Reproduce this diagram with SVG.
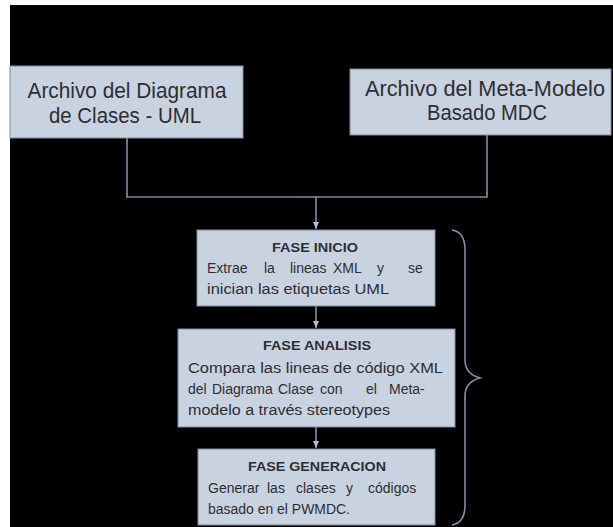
<svg xmlns="http://www.w3.org/2000/svg" width="613" height="527" viewBox="0 0 613 527">
<defs>
<style>
.box{fill:#c9d2df;stroke:#7f8ea3;stroke-width:1}
.t{font-family:"Liberation Sans",Arial,sans-serif;fill:#2e2e33}
.big{font-size:22px}
.h{font-size:12.5px;font-weight:bold}
.b{font-size:14px}
.ln{fill:none;stroke:#7f90a8;stroke-width:1.6}
</style>
<marker id="ah" markerWidth="8" markerHeight="6" refX="7" refY="3" orient="auto" markerUnits="userSpaceOnUse">
<path d="M0,0 L7,3 L0,6 Z" fill="#a9bfdc"/>
</marker>
</defs>
<rect x="0" y="0" width="613" height="527" fill="#ffffff"/>
<rect x="10" y="5" width="603" height="522" fill="#000000"/>
<g id="connectors">
<path class="ln" d="M127,138 V197 H487 V135"/>
<path class="ln" d="M316,197 V229" marker-end="url(#ah)"/>
<path class="ln" d="M316,306 V328" marker-end="url(#ah)"/>
<path class="ln" d="M316,427 V448" marker-end="url(#ah)"/>
</g>
<g id="uml">
<rect class="box" x="10" y="66" width="233" height="72"/>
<text class="t big" x="127" y="98" text-anchor="middle" textLength="199" lengthAdjust="spacingAndGlyphs">Archivo del Diagrama</text>
<text class="t big" x="125" y="123" text-anchor="middle" textLength="152" lengthAdjust="spacingAndGlyphs">de Clases - UML</text>
</g>
<g id="metamodelo">
<rect class="box" x="350" y="69" width="261" height="66"/>
<text class="t big" x="485" y="96" text-anchor="middle" textLength="240" lengthAdjust="spacingAndGlyphs">Archivo del Meta-Modelo</text>
<text class="t big" x="487" y="120" text-anchor="middle" textLength="120" lengthAdjust="spacingAndGlyphs">Basado MDC</text>
</g>
<g id="inicio">
<rect class="box" x="197" y="230" width="238" height="76"/>
<text class="t h" x="315" y="252" text-anchor="middle" textLength="86" lengthAdjust="spacingAndGlyphs">FASE INICIO</text>
<text class="t b" y="273"><tspan x="207">Extrae</tspan> <tspan x="264">la</tspan> <tspan x="290">lineas</tspan> <tspan x="333">XML</tspan> <tspan x="377">y</tspan> <tspan x="408">se</tspan></text>
<text class="t b" x="207" y="294" textLength="182" lengthAdjust="spacingAndGlyphs">inician las etiquetas UML</text>
</g>
<g id="analisis">
<rect class="box" x="178" y="329" width="277" height="98"/>
<text class="t h" x="317" y="350" text-anchor="middle" textLength="108" lengthAdjust="spacingAndGlyphs">FASE ANALISIS</text>
<text class="t b" x="188" y="373" textLength="255" lengthAdjust="spacingAndGlyphs">Compara las lineas de código XML</text>
<text class="t b" y="394"><tspan x="188">del</tspan> <tspan x="212">Diagrama</tspan> <tspan x="278">Clase</tspan> <tspan x="320">con</tspan> <tspan x="366">el</tspan> <tspan x="389">Meta-</tspan></text>
<text class="t b" x="188" y="415" textLength="202" lengthAdjust="spacingAndGlyphs">modelo a través stereotypes</text>
</g>
<g id="generacion">
<rect class="box" x="198" y="449" width="237" height="76"/>
<text class="t h" x="317" y="471" text-anchor="middle" textLength="138" lengthAdjust="spacingAndGlyphs">FASE GENERACION</text>
<text class="t b" y="493"><tspan x="208">Generar</tspan> <tspan x="267">las</tspan> <tspan x="296">clases</tspan> <tspan x="346">y</tspan> <tspan x="368">códigos</tspan></text>
<text class="t b" x="208" y="514" textLength="142" lengthAdjust="spacingAndGlyphs">basado en el PWMDC.</text>
</g>
<g id="brace">
<path class="ln" d="M452,230 Q465,232 465,250 V360 Q465,374 480,378 Q465,382 465,396 V505 Q465,523 452,525"/>
</g>
</svg>
